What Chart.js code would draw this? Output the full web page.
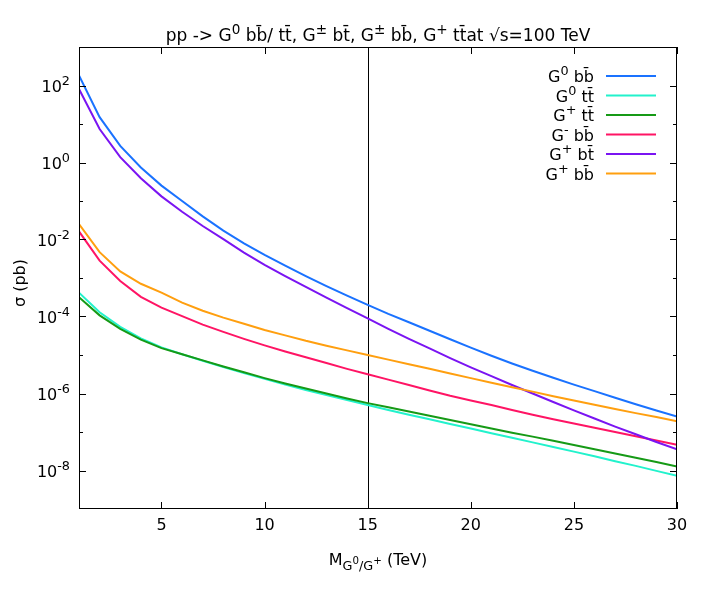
<!DOCTYPE html>
<html>
<head>
<meta charset="utf-8">
<script src="https://cdn.jsdelivr.net/npm/chart.js@4"></script>
<style>
  body { margin: 0; background: #fff; }
</style>
</head>
<body>
<canvas id="myChart" width="709" height="590"></canvas>
<script>
// masses in TeV
const masses = [1,2,3,4,5,6,7,8,9,10,11,12,13,14,15,16,17,18,19,20,21,22,23,24,25,26,27,28,29,30];

// cross sections in pb
const g0bb = [182, 15.1, 2.69, 0.74, 0.251, 0.1, 3.98e-2, 1.70e-2, 7.94e-3, 3.98e-3,
  2.09e-3, 1.12e-3, 6.17e-4, 3.47e-4, 2.0e-4, 1.17e-4, 7.08e-5, 4.27e-5, 2.57e-5, 1.55e-5,
  9.55e-6, 6.03e-6, 3.89e-6, 2.57e-6, 1.70e-6, 1.15e-6, 7.76e-7, 5.25e-7, 3.63e-7, 2.51e-7];
const g0tt = [4.17e-4, 1.29e-4, 5.37e-5, 2.69e-5, 1.58e-5, 1.05e-5, 7.08e-6, 4.90e-6, 3.39e-6, 2.40e-6,
  1.70e-6, 1.23e-6, 9.12e-7, 6.76e-7, 5.01e-7, 3.72e-7, 2.82e-7, 2.14e-7, 1.62e-7, 1.23e-7,
  9.33e-8, 7.08e-8, 5.37e-8, 4.07e-8, 3.09e-8, 2.34e-8, 1.74e-8, 1.32e-8, 9.77e-9, 7.24e-9];
const gptt = [3.16e-4, 1.07e-4, 4.79e-5, 2.51e-5, 1.51e-5, 1.05e-5, 7.24e-6, 5.01e-6, 3.55e-6, 2.51e-6,
  1.82e-6, 1.35e-6, 1.0e-6, 7.41e-7, 5.62e-7, 4.37e-7, 3.39e-7, 2.63e-7, 2.04e-7, 1.58e-7,
  1.23e-7, 9.55e-8, 7.59e-8, 5.89e-8, 4.57e-8, 3.55e-8, 2.75e-8, 2.14e-8, 1.66e-8, 1.26e-8];
const gmbb = [1.62e-2, 2.82e-3, 8.32e-4, 3.24e-4, 1.70e-4, 1.02e-4, 6.17e-5, 3.98e-5, 2.63e-5, 1.78e-5,
  1.23e-5, 8.71e-6, 6.17e-6, 4.37e-6, 3.16e-6, 2.29e-6, 1.66e-6, 1.20e-6, 8.71e-7, 6.61e-7,
  5.01e-7, 3.72e-7, 2.82e-7, 2.14e-7, 1.66e-7, 1.29e-7, 1.0e-7, 7.76e-8, 6.03e-8, 4.68e-8];
const gpbt = [81.3, 7.41, 1.38, 0.389, 0.132, 5.25e-2, 2.24e-2, 1.02e-2, 4.57e-3, 2.19e-3,
  1.12e-3, 5.89e-4, 3.09e-4, 1.66e-4, 8.91e-5, 4.79e-5, 2.63e-5, 1.48e-5, 8.32e-6, 4.79e-6,
  2.82e-6, 1.66e-6, 1.0e-6, 6.03e-7, 3.63e-7, 2.24e-7, 1.38e-7, 8.71e-8, 5.50e-8, 3.55e-8];
const gpbb = [2.51e-2, 4.68e-3, 1.48e-3, 7.08e-4, 4.17e-4, 2.29e-4, 1.41e-4, 9.33e-5, 6.46e-5, 4.47e-5,
  3.24e-5, 2.34e-5, 1.74e-5, 1.32e-5, 1.0e-5, 7.59e-6, 5.75e-6, 4.37e-6, 3.31e-6, 2.51e-6,
  1.91e-6, 1.45e-6, 1.12e-6, 8.51e-7, 6.61e-7, 5.13e-7, 3.98e-7, 3.09e-7, 2.45e-7, 1.91e-7];

// legend text: [text, superscript]
const seriesNames = [
  [['G', 0], ['0', 1], [' bb\u0304', 0]],
  [['G', 0], ['0', 1], [' tt\u0304', 0]],
  [['G', 0], ['+', 1], [' tt\u0304', 0]],
  [['G', 0], ['-', 1], [' bb\u0304', 0]],
  [['G', 0], ['+', 1], [' bt\u0304', 0]],
  [['G', 0], ['+', 1], [' bb\u0304', 0]]
];
const seriesData = [g0bb, g0tt, gptt, gmbb, gpbt, gpbb];
const seriesColors = ['#1a72ff', '#22f2cc', '#169a16', '#ff1464', '#7a14f2', '#ff9f0f'];

const xTicks = [5, 10, 15, 20, 25, 30];
const yMajorExp = [-8, -6, -4, -2, 0, 2];
const yMinorExp = [-7, -5, -3, -1, 1];
const markerMass = 15;

const titleParts = [['pp -> G', 0], ['0', 1], [' bb\u0304/ tt\u0304, G', 0], ['\u00b1', 1],
  [' bt\u0304, G', 0], ['\u00b1', 1], [' bb\u0304, G', 0], ['+', 1], [' tt\u0304at \u221as=100 TeV', 0]];
const xLabelParts = [['M', 0], ['G', 2], ['0', 3], ['/G', 2], ['+', 3], [' (TeV)', 0]];
const yLabel = '\u03c3 (pb)';

const FAMILY = "'DejaVu Sans', sans-serif";
const BASE = 16;

// kind: 0 normal, 1 sup, 2 sub, 3 sup on sub
function partStyle(kind, size) {
  if (kind === 1) return { s: size * 0.8, dy: -size * 0.42 };
  if (kind === 2) return { s: size * 0.8, dy: size * 0.3 };
  if (kind === 3) return { s: size * 0.64, dy: -size * 0.05 };
  return { s: size, dy: 0 };
}

function drawRich(c, parts, x, y, align, size) {
  let widths = parts.map(p => {
    c.font = partStyle(p[1], size).s + 'px ' + FAMILY;
    return c.measureText(p[0]).width;
  });
  let total = widths.reduce((a, b) => a + b, 0);
  let cx = align === 'right' ? x - total : (align === 'center' ? x - total / 2 : x);
  c.textAlign = 'left';
  c.textBaseline = 'alphabetic';
  parts.forEach((p, i) => {
    let st = partStyle(p[1], size);
    c.font = st.s + 'px ' + FAMILY;
    c.fillText(p[0], cx, y + st.dy);
    cx += widths[i];
  });
}

const decor = {
  id: 'decor',
  beforeDatasetsDraw(chart) {
    const c = chart.ctx, a = chart.chartArea;
    const px = Math.round(chart.scales.x.getPixelForValue(markerMass)) + 0.5;
    c.save();
    c.strokeStyle = '#000';
    c.lineWidth = 1;
    c.beginPath();
    c.moveTo(px, a.top);
    c.lineTo(px, a.bottom);
    c.stroke();
    c.restore();
  },
  afterDraw(chart) {
    const c = chart.ctx, a = chart.chartArea;
    const xs = chart.scales.x, ys = chart.scales.y;
    c.save();
    c.strokeStyle = '#000';
    c.fillStyle = '#000';
    c.lineWidth = 1;
    c.strokeRect(a.left + 0.5, a.top + 0.5, a.right - a.left - 1, a.bottom - a.top - 1);

    c.beginPath();
    xTicks.forEach(v => {
      const p = Math.round(xs.getPixelForValue(v)) + 0.5;
      c.moveTo(p, a.bottom); c.lineTo(p, a.bottom - 7);
      c.moveTo(p, a.top); c.lineTo(p, a.top + 7);
    });
    yMajorExp.forEach(e => {
      const p = Math.round(ys.getPixelForValue(Math.pow(10, e))) + 0.5;
      c.moveTo(a.left, p); c.lineTo(a.left + 7, p);
      c.moveTo(a.right, p); c.lineTo(a.right - 7, p);
    });
    yMinorExp.forEach(e => {
      const p = Math.round(ys.getPixelForValue(Math.pow(10, e))) + 0.5;
      c.moveTo(a.left, p); c.lineTo(a.left + 4, p);
      c.moveTo(a.right, p); c.lineTo(a.right - 4, p);
    });
    c.stroke();

    // tick labels
    c.font = BASE + 'px ' + FAMILY;
    c.textAlign = 'center';
    c.textBaseline = 'alphabetic';
    xTicks.forEach(v => {
      c.fillText(String(v), xs.getPixelForValue(v), a.bottom + 21);
    });
    yMajorExp.forEach(e => {
      const p = ys.getPixelForValue(Math.pow(10, e));
      drawRich(c, [['10', 0], [String(e), 1]], a.left - 9, p + 6, 'right', BASE);
    });

    // titles
    drawRich(c, titleParts, (a.left + a.right) / 2, 41, 'center', 17);
    drawRich(c, xLabelParts, (a.left + a.right) / 2, 565, 'center', BASE);
    c.save();
    c.translate(25, (a.top + a.bottom) / 2 + 5);
    c.rotate(-Math.PI / 2);
    c.font = BASE + 'px ' + FAMILY;
    c.textAlign = 'center';
    c.fillText(yLabel, 0, 0);
    c.restore();

    // legend
    seriesNames.forEach((name, i) => {
      const ly = a.top + 29 + i * 19.5;
      c.fillStyle = '#000';
      drawRich(c, name, a.right - 83, ly + 6, 'right', BASE);
      c.strokeStyle = seriesColors[i];
      c.lineWidth = 2;
      c.beginPath();
      c.moveTo(a.right - 71, ly);
      c.lineTo(a.right - 21, ly);
      c.stroke();
    });
    c.restore();
  }
};

const ctx = document.getElementById('myChart');

new Chart(ctx, {
  type: 'line',
  data: {
    datasets: seriesData.map((vals, i) => ({
      label: seriesNames[i].map(p => p[0]).join(''),
      data: masses.map((m, j) => ({ x: m, y: vals[j] })),
      borderColor: seriesColors[i],
      borderWidth: 2,
      pointRadius: 0,
      tension: 0,
      fill: false,
      order: -i
    }))
  },
  options: {
    responsive: false,
    animation: false,
    layout: { padding: { left: 79, right: 32, top: 47, bottom: 81 } },
    plugins: { legend: { display: false }, tooltip: { enabled: false } },
    scales: {
      x: { type: 'linear', min: 1, max: 30, display: false },
      y: { type: 'logarithmic', min: 1e-9, max: 1e3, display: false }
    }
  },
  plugins: [decor]
});
</script>
</body>
</html>
